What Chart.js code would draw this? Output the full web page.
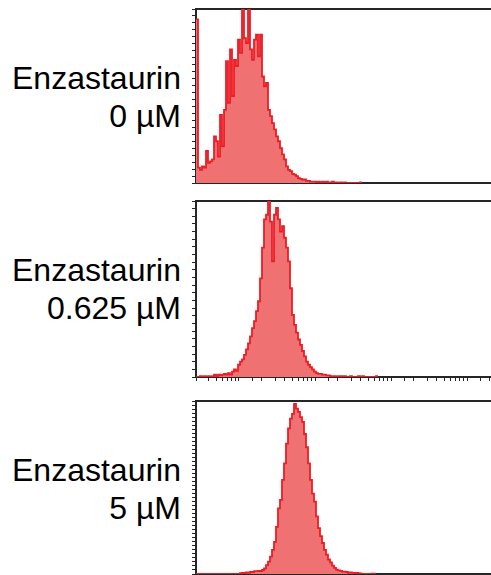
<!DOCTYPE html>
<html>
<head>
<meta charset="utf-8">
<script src="https://cdn.jsdelivr.net/npm/chart.js@4/dist/chart.umd.min.js"></script>
<style>
  html, body { margin: 0; padding: 0; background: #fff; overflow: hidden; }
  body { width: 491px; height: 575px; position: relative; font-family: "Liberation Sans", Arial, sans-serif; }
  .label { position: absolute; right: 310px; text-align: right; font-size: 32px; line-height: 38px; color: #000; white-space: nowrap; }
  .panel { position: absolute; left: 192px; width: 299px; }
</style>
</head>
<body>
<div class="label" style="top:59px">Enzastaurin<br>0 µM</div>
<div class="label" style="top:251px">Enzastaurin<br>0.625 µM</div>
<div class="label" style="top:451px">Enzastaurin<br>5 µM</div>

<div class="panel" style="top:7px;height:178px"><canvas id="hist-0"></canvas></div>
<div class="panel" style="top:199px;height:184px"><canvas id="hist-1"></canvas></div>
<div class="panel" style="top:399px;height:177px"><canvas id="hist-2"></canvas></div>

<script>
// fluorescence histograms, counts per channel (channels are 1/38 decade wide)
const doses = ['0 µM', '0.625 µM', '5 µM'];

const counts0 = [
  235, 22, 19, 24, 22, 46, 29, 31, 34, 67,
  60, 38, 98, 53, 105, 175, 115, 192, 125, 177,
  168, 206, 187, 260, 208, 201, 260, 192, 177, 206,
  213, 182, 213, 153, 139, 144, 105, 96, 86, 77,
  67, 60, 50, 41, 34, 24, 19, 17, 13, 12,
  10, 7, 6, 5, 5, 3, 3, 2, 2, 2,
  1, 2, 0, 2, 1, 2, 0, 1, 2, 0,
  1, 0, 1, 0, 1, 0, 0, 0, 0, 0,
  0, 0, 1
];

const counts1 = [
  0, 0, 1, 0, 1, 0, 1, 0, 1, 3,
  1, 3, 2, 3, 4, 3, 5, 3, 7, 10,
  8, 16, 20, 23, 29, 36, 44, 53, 64, 73,
  86, 99, 129, 169, 206, 212, 232, 203, 151, 212,
  221, 206, 190, 197, 182, 169, 151, 116, 81, 68,
  58, 49, 42, 34, 27, 20, 16, 13, 10, 7,
  5, 4, 4, 3, 3, 2, 2, 1, 1, 1,
  0, 1, 1, 1, 1, 0, 0, 1, 0, 0,
  0, 1, 0, 1, 0, 0, 0, 0, 0, 0,
  1
];

const counts2 = [
  0, 0, 0, 0, 0, 0, 0, 0, 0, 0,
  0, 0, 0, 0, 0, 0, 0, 0, 0, 0,
  0, 0, 2, 3, 2, 4, 3, 5, 5, 7,
  7, 8, 7, 10, 14, 22, 31, 43, 60, 80,
  117, 163, 184, 234, 275, 324, 362, 386, 398, 423,
  411, 403, 390, 378, 348, 315, 275, 234, 200, 180,
  143, 114, 94, 77, 60, 48, 36, 29, 21, 15,
  11, 9, 8, 6, 6, 5, 3, 4, 3, 2,
  3, 2, 1, 0, 0, 0, 0, 0, 1, 1
];

const yMax = [250, 230, 430];
const yStep = 10;

// x axis: log intensity, 10^1 sits 21.5 channels in from the left edge
const CHANNELS_PER_DECADE = 38;
const X_MIN = Math.pow(10, 1 - 21.5 / CHANNELS_PER_DECADE);
const X_MAX = X_MIN * Math.pow(10, 147.5 / CHANNELS_PER_DECADE);

const AXIS_COLOR = '#262626';
const LINE_COLOR = '#ee1c25';
const FILL_COLOR = '#f07171';

function channelEdge(i) {
  return X_MIN * Math.pow(10, i / CHANNELS_PER_DECADE);
}

function toSteps(counts) {
  const pts = counts.map((c, i) => ({ x: channelEdge(i), y: c }));
  pts.push({ x: channelEdge(counts.length), y: counts[counts.length - 1] });
  return pts;
}

function drawHistogram(id, counts, max, showXTicks) {
  new Chart(document.getElementById(id), {
    type: 'line',
    data: {
      datasets: [{
        data: toSteps(counts),
        stepped: true,
        borderColor: LINE_COLOR,
        borderWidth: 1.8,
        backgroundColor: FILL_COLOR,
        fill: 'origin',
        pointRadius: 0
      }]
    },
    options: {
      responsive: true,
      maintainAspectRatio: false,
      animation: false,
      devicePixelRatio: 1,
      layout: { padding: { left: 0, right: 0, top: 2, bottom: 2 } },
      plugins: { legend: { display: false }, tooltip: { enabled: false } },
      scales: {
        x: {
          type: 'logarithmic',
          min: X_MIN,
          max: X_MAX,
          z: 1,
          ticks: { display: false },
          grid: { drawOnChartArea: false, drawTicks: showXTicks, tickLength: 4, color: AXIS_COLOR },
          border: { display: true, color: AXIS_COLOR, width: 2 }
        },
        // top frame line only
        xTop: {
          type: 'linear',
          position: 'top',
          z: 1,
          ticks: { display: false },
          grid: { display: false, drawTicks: false },
          border: { display: true, color: AXIS_COLOR, width: 2 }
        },
        y: {
          min: 0,
          max: max,
          z: 1,
          ticks: { display: false, stepSize: yStep },
          grid: { drawOnChartArea: false, tickLength: 4, color: AXIS_COLOR },
          border: { display: true, color: AXIS_COLOR, width: 2 }
        }
      }
    }
  });
}

drawHistogram('hist-0', counts0, yMax[0], false);
drawHistogram('hist-1', counts1, yMax[1], true);
drawHistogram('hist-2', counts2, yMax[2], false);
</script>
</body>
</html>
